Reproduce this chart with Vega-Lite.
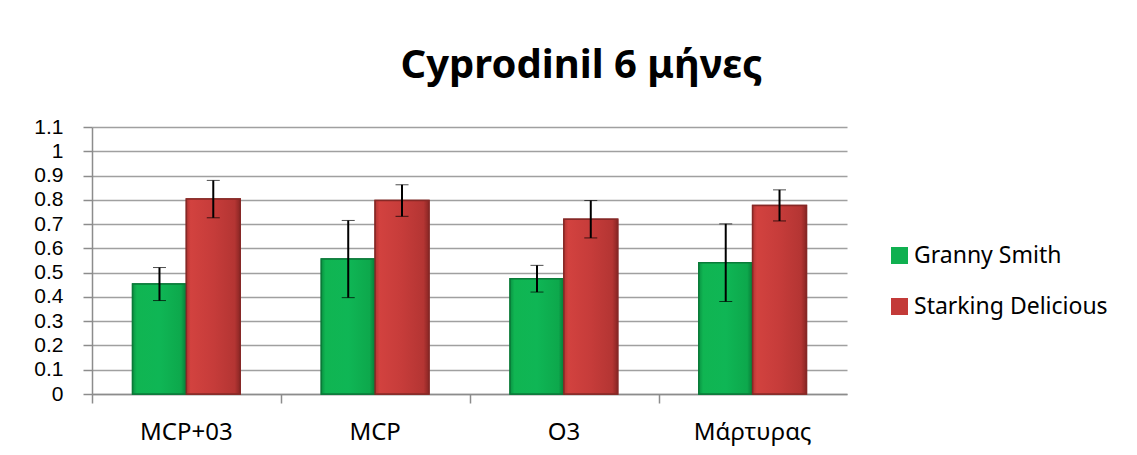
{
  "$schema": "https://vega.github.io/schema/vega-lite/v6.json",
  "autosize": "none",
  "width": 755,
  "height": 267,
  "padding": {"left": 92, "top": 127, "right": 290, "bottom": 61},
  "background": "white",
  "title": {
    "text": "Cyprodinil 6 μήνες",
    "font": "Noto Sans",
    "fontSize": 40,
    "fontWeight": "bold",
    "color": "black",
    "anchor": "middle",
    "offset": 30,
    "dx": 112
  },
  "config": {
    "view": {"stroke": null},
    "font": "Noto Sans"
  },
  "data": {
    "values": [
      {"treatment": "MCP+03", "variety": "Granny Smith", "mean": 0.453, "err": 0.068},
      {"treatment": "MCP+03", "variety": "Starking Delicious", "mean": 0.803, "err": 0.077},
      {"treatment": "MCP", "variety": "Granny Smith", "mean": 0.556, "err": 0.159},
      {"treatment": "MCP", "variety": "Starking Delicious", "mean": 0.797, "err": 0.065},
      {"treatment": "O3", "variety": "Granny Smith", "mean": 0.475, "err": 0.055},
      {"treatment": "O3", "variety": "Starking Delicious", "mean": 0.72, "err": 0.077},
      {"treatment": "Μάρτυρας", "variety": "Granny Smith", "mean": 0.541, "err": 0.16},
      {"treatment": "Μάρτυρας", "variety": "Starking Delicious", "mean": 0.777, "err": 0.064}
    ]
  },
  "encoding": {
    "x": {
      "field": "treatment",
      "type": "nominal",
      "sort": ["MCP+03", "MCP", "O3", "Μάρτυρας"],
      "scale": {"paddingInner": 0.43, "paddingOuter": 0.215},
      "axis": {
        "title": null,
        "labelAngle": 0,
        "labelFontSize": 24,
        "labelColor": "black",
        "labelPadding": 17,
        "domainColor": "#8c8c8c",
        "domainWidth": 1.5,
        "tickColor": "#8c8c8c",
        "tickWidth": 1.5,
        "tickSize": 9,
        "bandPosition": -0.37,
        "grid": false
      }
    },
    "xOffset": {"field": "variety", "type": "nominal", "scale": {"paddingInner": 0, "paddingOuter": 0}},
    "y": {
      "field": "mean",
      "type": "quantitative",
      "scale": {"domain": [0, 1.1], "nice": false},
      "axis": {
        "title": null,
        "values": [0, 0.1, 0.2, 0.3, 0.4, 0.5, 0.6, 0.7, 0.8, 0.9, 1, 1.1],
        "format": "~g",
        "labelFont": "Liberation Sans",
        "labelFontSize": 21,
        "labelColor": "black",
        "labelPadding": 20,
        "labelFlush": false,
        "labelOverlap": false,
        "domainColor": "#8c8c8c",
        "domainWidth": 1.5,
        "tickColor": "#8c8c8c",
        "tickWidth": 1.5,
        "tickSize": 9,
        "gridColor": "#a0a0a0",
        "gridWidth": 1.5
      }
    }
  },
  "layer": [
    {
      "mark": {"type": "bar", "strokeWidth": 1.5},
      "encoding": {
        "color": {
          "field": "variety",
          "type": "nominal",
          "scale": {"domain": ["Granny Smith", "Starking Delicious"], "range": ["#0fb050", "#c33a38"]},
          "legend": {
            "title": null,
            "orient": "none",
            "legendX": 796,
            "legendY": 117,
            "symbolType": "square",
            "symbolSize": 289,
            "symbolStrokeWidth": 0,
            "labelFontSize": 23,
            "labelColor": "black",
            "labelOffset": 3,
            "labelLimit": 0,
            "rowPadding": 27
          }
        },
        "stroke": {
          "field": "variety",
          "type": "nominal",
          "scale": {"domain": ["Granny Smith", "Starking Delicious"], "range": ["#0a7a38", "#862826"]},
          "legend": null
        }
      }
    },
    {
      "transform": [{"filter": "datum.variety === 'Granny Smith'"}],
      "mark": {
        "type": "bar",
        "stroke": "#0a7a38",
        "strokeWidth": 1.5,
        "fill": {
          "gradient": "linear",
          "x1": 0, "y1": 0, "x2": 1, "y2": 0,
          "stops": [
            {"offset": 0, "color": "#0a9443"},
            {"offset": 0.08, "color": "#10b552"},
            {"offset": 0.5, "color": "#0fb655"},
            {"offset": 0.9, "color": "#0da84c"},
            {"offset": 1, "color": "#087a38"}
          ]
        }
      }
    },
    {
      "transform": [{"filter": "datum.variety === 'Starking Delicious'"}],
      "mark": {
        "type": "bar",
        "stroke": "#862826",
        "strokeWidth": 1.5,
        "fill": {
          "gradient": "linear",
          "x1": 0, "y1": 0, "x2": 1, "y2": 0,
          "stops": [
            {"offset": 0, "color": "#b23532"},
            {"offset": 0.08, "color": "#d2423f"},
            {"offset": 0.5, "color": "#c63c3a"},
            {"offset": 0.9, "color": "#b43533"},
            {"offset": 1, "color": "#8a2624"}
          ]
        }
      }
    },
    {
      "mark": {"type": "errorbar", "ticks": {"size": 13, "color": "black", "strokeWidth": 2}, "rule": {"color": "black", "strokeWidth": 2}},
      "encoding": {
        "yError": {"field": "err"}
      }
    }
  ]
}
